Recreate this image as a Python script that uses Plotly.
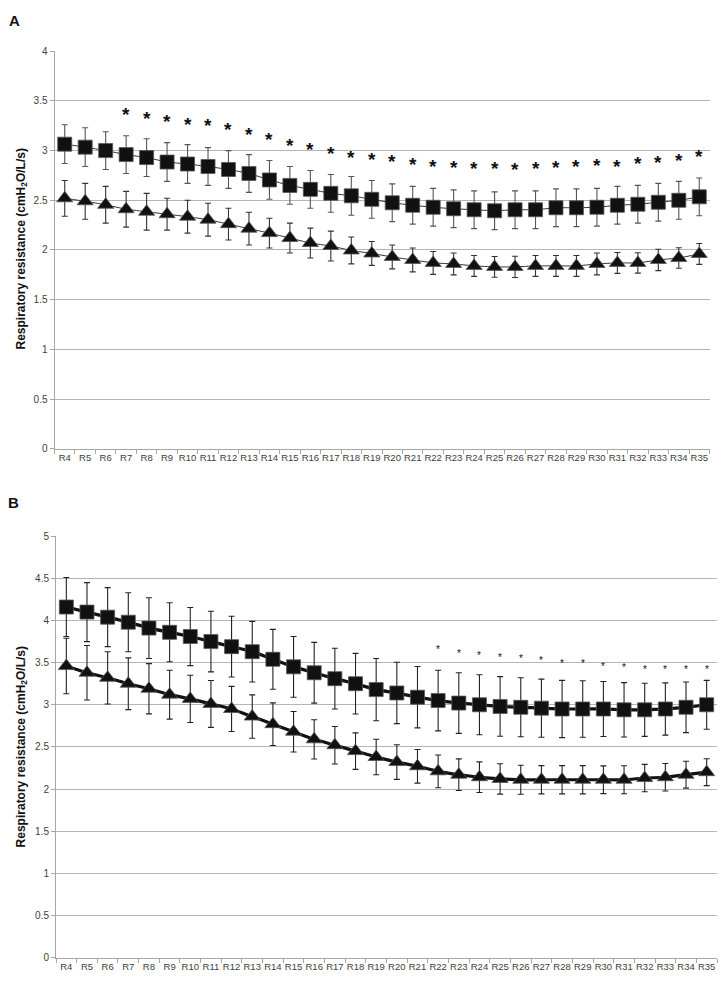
import plotly.graph_objects as go

# ---------------- data ----------------
categories = ["R4", "R5", "R6", "R7", "R8", "R9", "R10", "R11", "R12", "R13", "R14",
              "R15", "R16", "R17", "R18", "R19", "R20", "R21", "R22", "R23", "R24",
              "R25", "R26", "R27", "R28", "R29", "R30", "R31", "R32", "R33", "R34", "R35"]

# Panel A
a_square = [3.065, 3.035, 3.00, 2.96, 2.93, 2.885, 2.865, 2.84, 2.81, 2.77, 2.705,
            2.65, 2.61, 2.57, 2.545, 2.51, 2.475, 2.45, 2.43, 2.415, 2.405,
            2.395, 2.405, 2.405, 2.425, 2.425, 2.43, 2.45, 2.46, 2.48, 2.50, 2.535]
a_square_err = [0.195, 0.195, 0.19, 0.19, 0.19, 0.195, 0.195, 0.19, 0.19, 0.19, 0.195,
                0.19, 0.19, 0.19, 0.195, 0.19, 0.19, 0.19, 0.19, 0.19, 0.19,
                0.19, 0.19, 0.19, 0.19, 0.19, 0.19, 0.19, 0.19, 0.19, 0.19, 0.19]
a_triangle = [2.52, 2.49, 2.455, 2.41, 2.385, 2.36, 2.335, 2.305, 2.26, 2.215, 2.17,
              2.12, 2.07, 2.04, 1.995, 1.965, 1.93, 1.90, 1.87, 1.86, 1.84,
              1.83, 1.83, 1.84, 1.84, 1.84, 1.86, 1.87, 1.87, 1.90, 1.92, 1.96]
a_triangle_err = [0.18, 0.18, 0.185, 0.18, 0.185, 0.16, 0.165, 0.165, 0.16, 0.165, 0.15,
                  0.15, 0.15, 0.15, 0.135, 0.12, 0.12, 0.12, 0.115, 0.11, 0.105,
                  0.105, 0.107, 0.105, 0.105, 0.105, 0.11, 0.105, 0.103, 0.108, 0.103, 0.105]
a_star_cats = ["R7", "R8", "R9", "R10", "R11", "R12", "R13", "R14", "R15", "R16", "R17",
               "R18", "R19", "R20", "R21", "R22", "R23", "R24", "R25", "R26", "R27",
               "R28", "R29", "R30", "R31", "R32", "R33", "R34", "R35"]
a_star_y = [3.41, 3.37, 3.34, 3.31, 3.30, 3.26, 3.21, 3.16, 3.10, 3.06, 3.02,
            2.98, 2.96, 2.94, 2.91, 2.89, 2.88, 2.87, 2.87, 2.86, 2.87,
            2.88, 2.89, 2.90, 2.89, 2.92, 2.93, 2.95, 2.99]

# Panel B
b_square = [4.16, 4.10, 4.04, 3.98, 3.91, 3.86, 3.81, 3.75, 3.69, 3.63, 3.54,
            3.45, 3.38, 3.31, 3.25, 3.18, 3.14, 3.09, 3.05, 3.02, 3.00,
            2.98, 2.97, 2.96, 2.95, 2.95, 2.95, 2.94, 2.94, 2.95, 2.97, 3.00]
b_square_err = [0.35, 0.35, 0.35, 0.35, 0.36, 0.35, 0.345, 0.36, 0.36, 0.36, 0.355,
                0.36, 0.36, 0.36, 0.36, 0.37, 0.364, 0.364, 0.36, 0.36, 0.356,
                0.354, 0.35, 0.345, 0.34, 0.335, 0.327, 0.323, 0.315, 0.31, 0.30, 0.29]
b_triangle = [3.46, 3.38, 3.32, 3.25, 3.19, 3.12, 3.07, 3.01, 2.95, 2.86, 2.77,
              2.68, 2.59, 2.52, 2.45, 2.38, 2.32, 2.27, 2.21, 2.17, 2.14,
              2.12, 2.11, 2.11, 2.11, 2.11, 2.11, 2.11, 2.13, 2.14, 2.17, 2.20]
b_triangle_err = [0.33, 0.323, 0.31, 0.307, 0.298, 0.29, 0.28, 0.278, 0.268, 0.258, 0.253,
                  0.24, 0.233, 0.223, 0.217, 0.21, 0.206, 0.20, 0.194, 0.188, 0.182,
                  0.18, 0.172, 0.168, 0.168, 0.168, 0.165, 0.166, 0.163, 0.163, 0.159, 0.159]
b_star_cats = ["R22", "R23", "R24", "R25", "R26", "R27", "R28", "R29", "R30", "R31",
               "R32", "R33", "R34", "R35"]
b_star_y = [3.69, 3.65, 3.62, 3.60, 3.58, 3.56, 3.53, 3.53, 3.49, 3.48,
            3.45, 3.45, 3.45, 3.45]

y_title = "<b>Respiratory resistance (cmH<sub>2</sub>O/L/s)</b>"

# ---------------- figure ----------------
W, H = 724, 986
FONT = "Liberation Sans, Arial, sans-serif"
fig = go.Figure()


def add_series(xa, ya, yvals, errs, symbol, size, line_w, line_col, err_col, err_w):
    fig.add_trace(go.Scatter(
        x=categories, y=yvals, xaxis=xa, yaxis=ya,
        mode="lines+markers",
        line=dict(color=line_col, width=line_w, shape="spline", smoothing=0.4),
        marker=dict(symbol=symbol, size=size, color="#111111",
                    line=dict(color="#555555", width=0.8)),
        error_y=dict(type="data", array=errs, visible=True, color=err_col,
                     thickness=err_w, width=3),
        hoverinfo="x+y", showlegend=False,
    ))


# Panel A
add_series("x", "y", a_square, a_square_err, "square", 14, 1, "#333333", "#555555", 1.1)
add_series("x", "y", a_triangle, a_triangle_err, "triangle-up", 14, 1, "#333333", "#333333", 1.1)
# Panel B
add_series("x2", "y2", b_square, b_square_err, "square", 14, 3.2, "#111111", "#222222", 1.1)
add_series("x2", "y2", b_triangle, b_triangle_err, "triangle-up", 14, 3.2, "#111111", "#222222", 1.1)

annotations = []
for c, v in zip(a_star_cats, a_star_y):
    annotations.append(dict(x=c, y=v, xref="x", yref="y", text="<b>*</b>", showarrow=False,
                            font=dict(family=FONT, size=19, color="#111111"),
                            xanchor="center", yanchor="middle", yshift=-5))
for c, v in zip(b_star_cats, b_star_y):
    annotations.append(dict(x=c, y=v, xref="x2", yref="y2", text="*", showarrow=False,
                            font=dict(family=FONT, size=10, color="#111111"),
                            xanchor="center", yanchor="middle", yshift=-3))

# panel letters and y titles
annotations += [
    dict(x=14 / W, y=1 - 16 / H, xref="paper", yref="paper", text="<b>A</b>", showarrow=False,
         font=dict(family=FONT, size=15, color="#111111"), xanchor="center", yanchor="middle"),
    dict(x=13 / W, y=1 - 503 / H, xref="paper", yref="paper", text="<b>B</b>", showarrow=False,
         font=dict(family=FONT, size=15, color="#111111"), xanchor="center", yanchor="middle"),
    dict(x=22 / W, y=1 - 247 / H, xref="paper", yref="paper", text=y_title, showarrow=False,
         textangle=-90, font=dict(family=FONT, size=12, color="#111111"),
         xanchor="center", yanchor="middle"),
    dict(x=22 / W, y=1 - 750 / H, xref="paper", yref="paper", text=y_title, showarrow=False,
         textangle=-90, font=dict(family=FONT, size=12, color="#111111"),
         xanchor="center", yanchor="middle"),
]

axis_col = "#a6a6a6"
grid_col = "#b5b5b5"
tickfont = dict(family=FONT, size=10, color="#404040")

xcommon = dict(type="category", range=[-0.5, 31.5], showline=True, linecolor=axis_col,
               linewidth=1, ticks="outside", tickson="boundaries", ticklen=4,
               tickcolor=axis_col, tickfont=dict(family=FONT, size=9.5, color="#404040"),
               tickangle=0, showgrid=False, zeroline=False, fixedrange=True)
ycommon = dict(dtick=0.5, showgrid=True, gridcolor=grid_col, gridwidth=1, showline=True,
               linecolor=axis_col, linewidth=1, ticks="outside", ticklen=4,
               tickcolor=axis_col, tickfont=tickfont, zeroline=False, fixedrange=True)

fig.update_layout(
    width=W, height=H,
    margin=dict(l=0, r=0, t=0, b=0),
    paper_bgcolor="white", plot_bgcolor="white",
    showlegend=False,
    font=dict(family=FONT),
    xaxis=dict(domain=[54.5 / W, 709.5 / W], anchor="y", **xcommon),
    yaxis=dict(domain=[1 - 448.3 / H, 1 - 46.7 / H], anchor="x", range=[0, 4], **ycommon),
    xaxis2=dict(domain=[56 / W, 717 / W], anchor="y2", **xcommon),
    yaxis2=dict(domain=[1 - 962.3 / H, 1 - 536.7 / H], anchor="x2", range=[0, 5], **ycommon),
    annotations=annotations,
)

fig.write_html(
    "out.html",
    config={"displayModeBar": False},
    post_script="document.body.style.margin='0';document.body.style.overflow='hidden';",
)
